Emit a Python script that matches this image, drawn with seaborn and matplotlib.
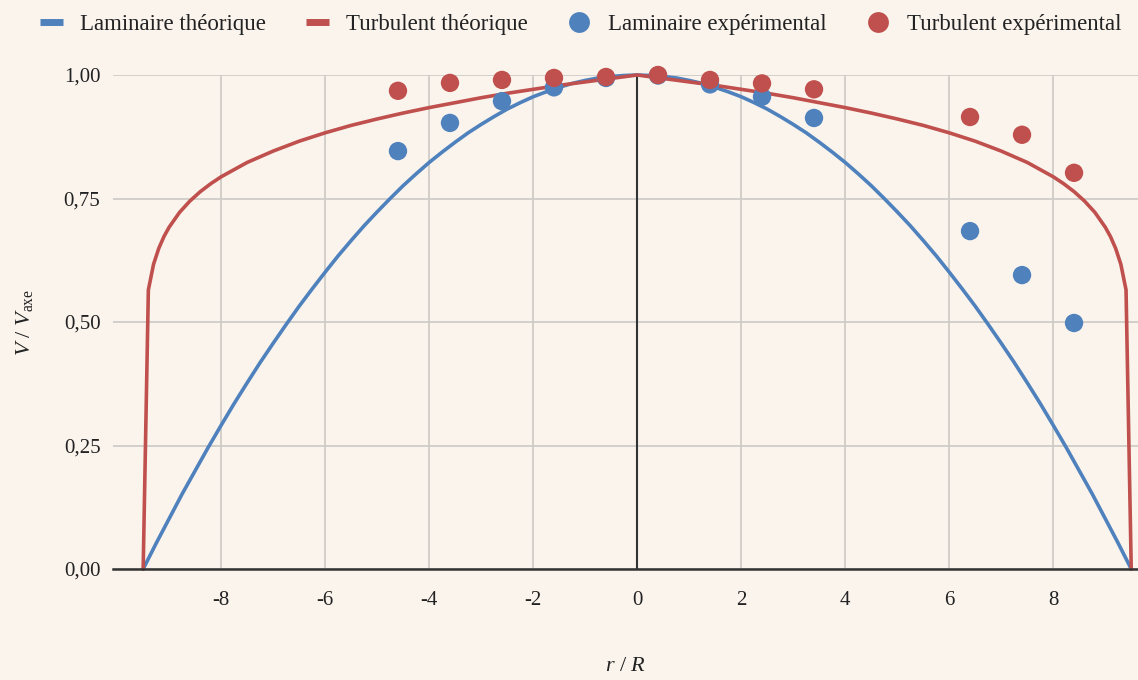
import numpy as np
import pandas as pd
import matplotlib
matplotlib.use("Agg")
import matplotlib.pyplot as plt
from matplotlib.lines import Line2D
from matplotlib.ticker import FuncFormatter
import seaborn as sns

# Couleurs
BLEU = "#4F81BD"
ROUGE = "#C0504D"
FOND = "#FAF4ED"

# Profil laminaire théorique
r_lam = [-9.5, -9.25, -9.0, -8.75, -8.5, -8.25, -8.0, -7.75, -7.5, -7.25, -7.0, -6.75, -6.5,
         -6.25, -6.0, -5.75, -5.5, -5.25, -5.0, -4.75, -4.5, -4.25, -4.0, -3.75, -3.5, -3.25,
         -3.0, -2.75, -2.5, -2.25, -2.0, -1.75, -1.5, -1.25, -1.0, -0.75, -0.5, -0.25, 0.0,
         0.25, 0.5, 0.75, 1.0, 1.25, 1.5, 1.75, 2.0, 2.25, 2.5, 2.75, 3.0, 3.25, 3.5, 3.75,
         4.0, 4.25, 4.5, 4.75, 5.0, 5.25, 5.5, 5.75, 6.0, 6.25, 6.5, 6.75, 7.0, 7.25, 7.5,
         7.75, 8.0, 8.25, 8.5, 8.75, 9.0, 9.25, 9.5]
v_lam = [0.000, 0.052, 0.102, 0.152, 0.199, 0.246, 0.291, 0.335, 0.377, 0.418, 0.457, 0.495,
         0.532, 0.567, 0.601, 0.634, 0.665, 0.695, 0.723, 0.750, 0.776, 0.800, 0.823, 0.844,
         0.864, 0.883, 0.900, 0.916, 0.931, 0.944, 0.956, 0.966, 0.975, 0.983, 0.989, 0.994,
         0.997, 0.999, 1.000, 0.999, 0.997, 0.994, 0.989, 0.983, 0.975, 0.966, 0.956, 0.944,
         0.931, 0.916, 0.900, 0.883, 0.864, 0.844, 0.823, 0.800, 0.776, 0.750, 0.723, 0.695,
         0.665, 0.634, 0.601, 0.567, 0.532, 0.495, 0.457, 0.418, 0.377, 0.335, 0.291, 0.246,
         0.199, 0.152, 0.102, 0.052, 0.000]

# Profil turbulent théorique
r_turb = [-9.5, -9.4, -9.3, -9.2, -9.1, -9.0, -8.8, -8.6, -8.4, -8.2, -8.0, -7.5, -7.0, -6.5,
          -6.0, -5.5, -5.0, -4.5, -4.0, -3.5, -3.0, -2.5, -2.0, -1.5, -1.0, -0.5, 0.0,
          0.5, 1.0, 1.5, 2.0, 2.5, 3.0, 3.5, 4.0, 4.5, 5.0, 5.5, 6.0, 6.5, 7.0, 7.5, 8.0,
          8.2, 8.4, 8.6, 8.8, 9.0, 9.1, 9.2, 9.3, 9.4, 9.5]
v_turb = [0.000, 0.565, 0.617, 0.649, 0.673, 0.692, 0.722, 0.745, 0.764, 0.780, 0.794, 0.823,
          0.846, 0.866, 0.883, 0.898, 0.911, 0.923, 0.934, 0.944, 0.954, 0.963, 0.971, 0.979,
          0.986, 0.993, 1.000, 0.993, 0.986, 0.979, 0.971, 0.963, 0.954, 0.944, 0.934, 0.923,
          0.911, 0.898, 0.883, 0.866, 0.846, 0.823, 0.794, 0.780, 0.764, 0.745, 0.722, 0.692,
          0.673, 0.649, 0.617, 0.565, 0.000]

# Mesures expérimentales
r_exp = [-4.6, -3.6, -2.6, -1.6, -0.6, 0.4, 1.4, 2.4, 3.4, 6.4, 7.4, 8.4]
v_lam_exp = [0.846, 0.903, 0.947, 0.975, 0.994, 0.999, 0.981, 0.956, 0.913, 0.684, 0.595, 0.498]
v_turb_exp = [0.968, 0.984, 0.990, 0.994, 0.996, 1.000, 0.990, 0.983, 0.971, 0.915, 0.879, 0.802]

x_ticks = [-8, -6, -4, -2, 0, 2, 4, 6, 8]
y_ticks = [0.0, 0.25, 0.5, 0.75, 1.0]

sns.set_theme(style="whitegrid")
plt.rcParams["font.family"] = ["Liberation Serif", "DejaVu Serif"]
plt.rcParams["mathtext.fontset"] = "custom"
plt.rcParams["mathtext.rm"] = "Liberation Serif"
plt.rcParams["mathtext.it"] = "Liberation Serif:italic"
plt.rcParams["axes.unicode_minus"] = False

df_lam = pd.DataFrame({"r": r_lam, "v": v_lam})
df_turb = pd.DataFrame({"r": r_turb, "v": v_turb})
df_exp = pd.DataFrame({"r": r_exp, "lam": v_lam_exp, "turb": v_turb_exp})

fig = plt.figure(figsize=(11.38, 6.8), dpi=100, facecolor=FOND)
ax = fig.add_axes([113 / 1138, 1 - 569 / 680, 1025 / 1138, (569 - 75) / 680])
ax.set_facecolor(FOND)

sns.lineplot(data=df_lam, x="r", y="v", ax=ax, color=BLEU, lw=2.6, sort=False, clip_on=False)
sns.lineplot(data=df_turb, x="r", y="v", ax=ax, color=ROUGE, lw=2.6, sort=False, clip_on=False)
sns.scatterplot(data=df_exp, x="r", y="lam", ax=ax, color=BLEU, s=175, edgecolor="none",
                zorder=4, clip_on=False)
sns.scatterplot(data=df_exp, x="r", y="turb", ax=ax, color=ROUGE, s=175, edgecolor="none",
                zorder=5, clip_on=False)

ax.set_xlim(-10.08, 9.63)
ax.set_ylim(0, 1.0)
ax.set_xticks(x_ticks)
ax.set_yticks(y_ticks)
ax.xaxis.set_major_formatter(FuncFormatter(lambda v, p: f"{int(v)}"))
ax.yaxis.set_major_formatter(FuncFormatter(lambda v, p: f"{v:.2f}".replace(".", ",")))
ax.tick_params(axis="both", length=0, labelsize=15, colors="#222222", pad=9)
ax.tick_params(axis="x", pad=16)

ax.grid(True, color="#CFCCC8", lw=1.3)
for s in ["top", "right", "left"]:
    ax.spines[s].set_visible(False)
ax.spines["bottom"].set_color("#333333")
ax.spines["bottom"].set_linewidth(1.8)
ax.axvline(0, color="#333333", lw=1.5, zorder=1)

ax.set_xlabel(r"$\mathit{r}\ /\ \mathit{R}$", fontsize=16, color="#222222", labelpad=34)
ax.set_ylabel(r"$\mathit{V}\ /\ \mathit{V}_{\mathrm{axe}}$", fontsize=16, color="#222222",
              labelpad=21)

handles = [
    Line2D([], [], color=BLEU, lw=5, solid_capstyle="butt"),
    Line2D([], [], color=ROUGE, lw=5, solid_capstyle="butt"),
    Line2D([], [], color=BLEU, marker="o", ls="none", markersize=15, markeredgewidth=0),
    Line2D([], [], color=ROUGE, marker="o", ls="none", markersize=15, markeredgewidth=0),
]
labels = ["Laminaire théorique", "Turbulent théorique", "Laminaire expérimental",
          "Turbulent expérimental"]
fig.legend(handles, labels, loc="upper center", bbox_to_anchor=(0.51, 1.01), ncol=4,
           frameon=False, fontsize=16.5, handlelength=1.0, handletextpad=0.75,
           columnspacing=1.75, labelcolor="#222222")

fig.savefig("out.png", dpi=100, facecolor=FOND)
